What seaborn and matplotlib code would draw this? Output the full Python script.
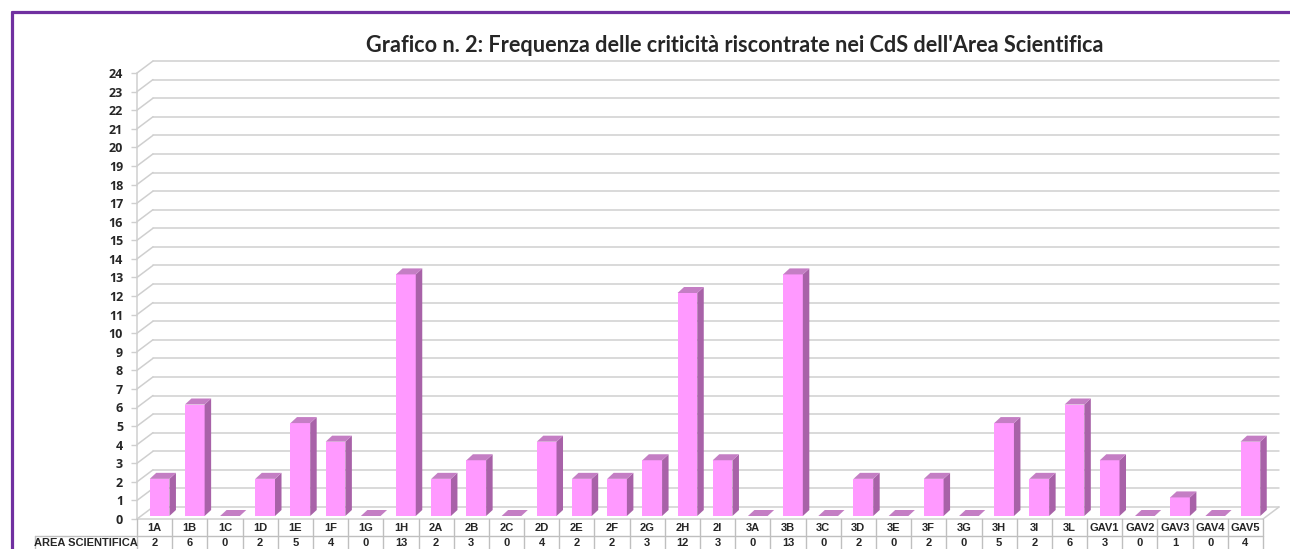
import matplotlib
matplotlib.use("Agg")
import matplotlib.pyplot as plt
import seaborn as sns
from matplotlib.lines import Line2D

# dati
categorie = ['1A', '1B', '1C', '1D', '1E', '1F', '1G', '1H', '2A', '2B', '2C', '2D', '2E',
             '2F', '2G', '2H', '2I', '3A', '3B', '3C', '3D', '3E', '3F', '3G', '3H', '3I',
             '3L', 'GAV1', 'GAV2', 'GAV3', 'GAV4', 'GAV5']
valori = [2, 6, 0, 2, 5, 4, 0, 13, 2, 3, 0, 4, 2, 2, 3, 12, 3, 0, 13, 0, 2, 0, 2, 0, 5, 2,
          6, 3, 0, 1, 0, 4]
etichetta_riga = 'AREA SCIENTIFICA'
titolo = "Grafico n. 2: Frequenza delle criticità riscontrate nei CdS dell'Area Scientifica"
tacche_y = list(range(0, 25))

# colori
FRONTE = '#FF99FF'
LATO = '#A862A8'
SOPRA = '#C47EC4'
GRIGLIA = '#CFCFCF'
BORDO = '#7030A0'

sns.set_theme(style='white')
plt.rcParams['font.family'] = ['Open Sans', 'DejaVu Sans']

W, H = 1290, 549
fig = plt.figure(figsize=(W / 100, H / 100), dpi=100)
ax = fig.add_axes([137 / W, 30 / H, 1126 / W, 446 / H])

sns.barplot(x=categorie, y=valori, color=FRONTE, saturation=1, width=0.56,
            linewidth=0, ax=ax, zorder=3)
n = len(categorie)
ax.set_xlim(-0.5, n - 0.5)
ax.set_ylim(0, 24)
for s in ax.spines.values():
    s.set_visible(False)
ax.set_xlabel('')
ax.set_ylabel('')
ax.set_xticks([])
ax.set_yticks(tacche_y)
ax.set_yticklabels([str(t) for t in tacche_y], fontsize=9, fontweight='bold')
ax.tick_params(axis='y', left=True, length=4, width=1, color=GRIGLIA, pad=6)

tr = ax.transData
inv = tr.inverted()


def linea(p0, p1, col=GRIGLIA, lw=1.1, z=0.5):
    a = inv.transform([p0, p1])
    ax.plot(a[:, 0], a[:, 1], color=col, lw=lw, zorder=z, clip_on=False)


def faccia(punti, col, z):
    a = inv.transform(punti)
    ax.fill(a[:, 0], a[:, 1], color=col, lw=0, zorder=z, clip_on=False)


# pareti e griglia (prospettiva in pixel)
PX, PY = 16, 12
for v in tacche_y:
    x0, y0 = tr.transform((-0.5, v))
    x1, _ = tr.transform((n - 0.5, v))
    linea((x0 + PX, y0 + PY), (x1 + PX, y0 + PY))
    linea((x0, y0), (x0 + PX, y0 + PY))
x0, y0 = tr.transform((-0.5, 0))
x1, y1 = tr.transform((n - 0.5, 0))
_, ytop = tr.transform((-0.5, 24))
linea((x0, y0), (x1, y0))
linea((x1, y0), (x1 + PX, y0 + PY))
linea((x0, y0), (x0, ytop))

# barre 3D
BX, BY = 5, 3
DX, DY = 6.5, 6
for p in list(ax.patches):
    xa, xb = p.get_x(), p.get_x() + p.get_width()
    h = p.get_height()
    (ax0, ay0), (ax1, ay1) = tr.transform([(xa, 0), (xb, h)])
    ax0 += BX; ax1 += BX; ay0 += BY; ay1 += BY
    faccia([(ax0, ay0), (ax1, ay0), (ax1, ay1), (ax0, ay1)], FRONTE, 3)
    if h > 0:
        faccia([(ax1, ay0), (ax1 + DX, ay0 + DY), (ax1 + DX, ay1 + DY), (ax1, ay1)], LATO, 3)
    faccia([(ax0, ay1), (ax1, ay1), (ax1 + DX, ay1 + DY), (ax0 + DX, ay1 + DY)], SOPRA, 3)
    p.set_visible(False)

# tabella dati
tb = ax.get_xaxis_transform()
fy = lambda py: (519 - py) / 446
sx = -0.5 - 102 / (1126 / n)
kw = dict(transform=tb, color='#BFBFBF', lw=1, clip_on=False, zorder=1)
ax.plot([sx, n - 0.5], [fy(536), fy(536)], **kw)
ax.plot([sx, sx], [fy(536), fy(549)], **kw)
for k in range(n + 1):
    ax.plot([k - 0.5, k - 0.5], [fy(519), fy(549)], **kw)
fnt = dict(family=['Liberation Sans', 'DejaVu Sans'], fontsize=8, fontweight='bold',
           ha='center', va='center', transform=tb, clip_on=False)
for i, (c, v) in enumerate(zip(categorie, valori)):
    ax.text(i, fy(528), c, **fnt)
    ax.text(i, fy(542.5), str(v), **fnt)
ax.text((sx - 0.5) / 2, fy(542.5), etichetta_riga, **fnt)

# titolo
fig.text(734.5 / W, 1 - 45 / H, titolo, ha='center', va='center', fontsize=15.6,
         fontweight='bold', family=['Lato', 'DejaVu Sans'])

# cornice viola
fig.add_artist(Line2D([12 / W, 12 / W], [0, 1 - 12 / H], transform=fig.transFigure,
                      color=BORDO, lw=2.3))
fig.add_artist(Line2D([12 / W, 1], [1 - 12 / H, 1 - 12 / H], transform=fig.transFigure,
                      color=BORDO, lw=2.3))

fig.savefig('out.png', dpi=100)
